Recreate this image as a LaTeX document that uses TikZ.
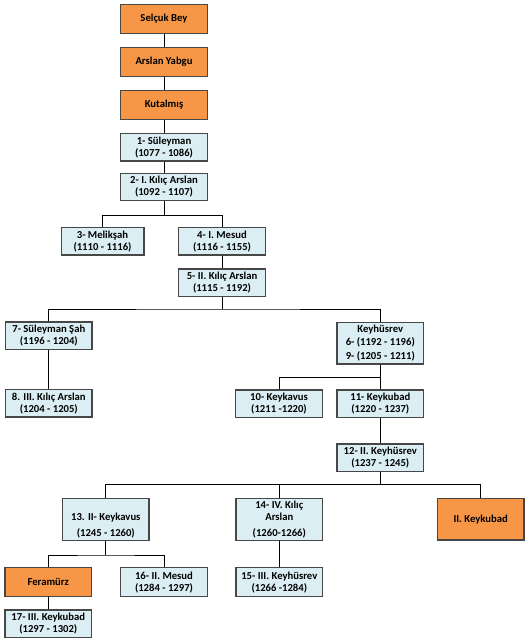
\documentclass[tikz,border=0pt]{standalone}
\usepackage{fontspec}
\setmainfont{Carlito}
\usepackage{xcolor}
\usepackage{tikz}
\usetikzlibrary{positioning}
\definecolor{orangebox}{HTML}{F79646}
\definecolor{bluebox}{HTML}{DBEEF4}
\definecolor{edgegray}{HTML}{474747}
\tikzstyle{sultan} = [draw=edgegray, line width=1pt, fill=bluebox, inner sep=0pt,
  minimum width=64.9pt, minimum height=20.5pt, align=center,
  font=\bfseries\fontsize{8}{9}\selectfont]
\tikzstyle{ancestor} = [sultan, fill=orangebox, minimum height=21.6pt]
\tikzstyle{tall} = [minimum height=31.2pt]
\tikzstyle{link} = [line width=0.75pt, black]

\begin{document}
\begin{tikzpicture}[x=0.75pt, y=-0.75pt]
    \useasboundingbox (0,0) rectangle (529,643);

    % Ancestors
    \node[ancestor] (selcuk) at (164, 19) {Selçuk Bey};
    \node[ancestor] (arslan) at (164, 62) {Arslan Yabgu};
    \node[ancestor] (kutalmis) at (164, 104.8) {Kutalmış};

    % Sultans
    \node[sultan] (s1) at (164, 147.3) {1- Süleyman\\(1077 - 1086)};
    \node[sultan] (s2) at (164, 187) {2- I. Kılıç Arslan\\(1092 - 1107)};
    \node[sultan, minimum width=62pt] (s3) at (102.5, 241.2) {3- Melikşah\\(1110 - 1116)};
    \node[sultan] (s4) at (222, 241.2) {4- I. Mesud\\(1116 - 1155)};
    \node[sultan] (s5) at (222, 282.7) {5- II. Kılıç Arslan\\(1115 - 1192)};
    \node[sultan] (s7) at (48.8, 335.5) {7- Süleyman Şah\\(1196 - 1204)};
    \node[sultan] (s8) at (48.8, 403.3) {8. III. Kılıç Arslan\\(1204 - 1205)};
    \node[sultan, tall] (s6) at (380.3, 343.3) {Keyhüsrev\\[0.5pt]6- (1192 - 1196)\\[1.5pt]9- (1205 - 1211)};
    \node[sultan] (s10) at (279, 403.8) {10- Keykavus\\(1211 -1220)};
    \node[sultan] (s11) at (380.3, 403.8) {11- Keykubad\\(1220 - 1237)};
    \node[sultan] (s12) at (380.3, 457.5) {12- II. Keyhüsrev\\(1237 - 1245)};
    \node[sultan, tall] (s13) at (105.8, 519.5) {\phantom{Kılıç}\\[0.5pt]13. II- Keykavus\\[2.8pt](1245 - 1260)};
    \node[sultan, tall] (s14) at (279.3, 519.5) {14- IV. Kılıç\\[0.5pt]Arslan\\[2.8pt](1260-1266)};
    \node[ancestor, tall] (keykubad) at (480.7, 519.2) {II. Keykubad};
    \node[ancestor] (feramurz) at (48.3, 582.2) {Feramürz};
    \node[sultan, minimum height=21.7pt] (s16) at (164, 582.2) {16- II. Mesud\\(1284 - 1297)};
    \node[sultan, minimum height=21.7pt] (s15) at (279.3, 582.2) {15- III. Keyhüsrev\\(1266 -1284)};
    \node[sultan] (s17) at (48.3, 623.7) {17- III. Keykubad\\(1297 - 1302)};

    % Junctions
    \coordinate (j2) at (164, 215.5);
    \coordinate (j5) at (222, 309);
    \coordinate (j6) at (380.3, 377.7);
    \coordinate (j12) at (380.3, 484.7);
    \coordinate (j13) at (105.8, 555);

    % Connectors
    \draw[link] (selcuk) -- (arslan);
    \draw[link] (arslan) -- (kutalmis);
    \draw[link] (kutalmis) -- (s1);
    \draw[link] (s1) -- (s2);
    \draw[link] (s2.south) -- (j2);
    \draw[link] (s3.north) |- (j2) -| (s4.north);
    \draw[link] (s4) -- (s5);
    \draw[link] (s5.south) -- (j5);
    \draw[link] (s7.north) |- (j5) -| (s6.north);
    \draw[link] (s7) -- (s8);
    \draw[link] (s6) -- (s11);
    \draw[link] (s10.north) |- (j6);
    \draw[link] (s11) -- (s12);
    \draw[link] (s12.south) -- (j12);
    \draw[link] (s13.north) |- (j12) -| (keykubad.north);
    \draw[link] (s14.north) -- (s14.north |- j12);
    \draw[link] (s13.south) -- (j13);
    \draw[link] (feramurz.north) |- (j13) -| (s16.north);
    \draw[link] (s14) -- (s15);
    \draw[link] (feramurz) -- (s17);
\end{tikzpicture}
\end{document}
